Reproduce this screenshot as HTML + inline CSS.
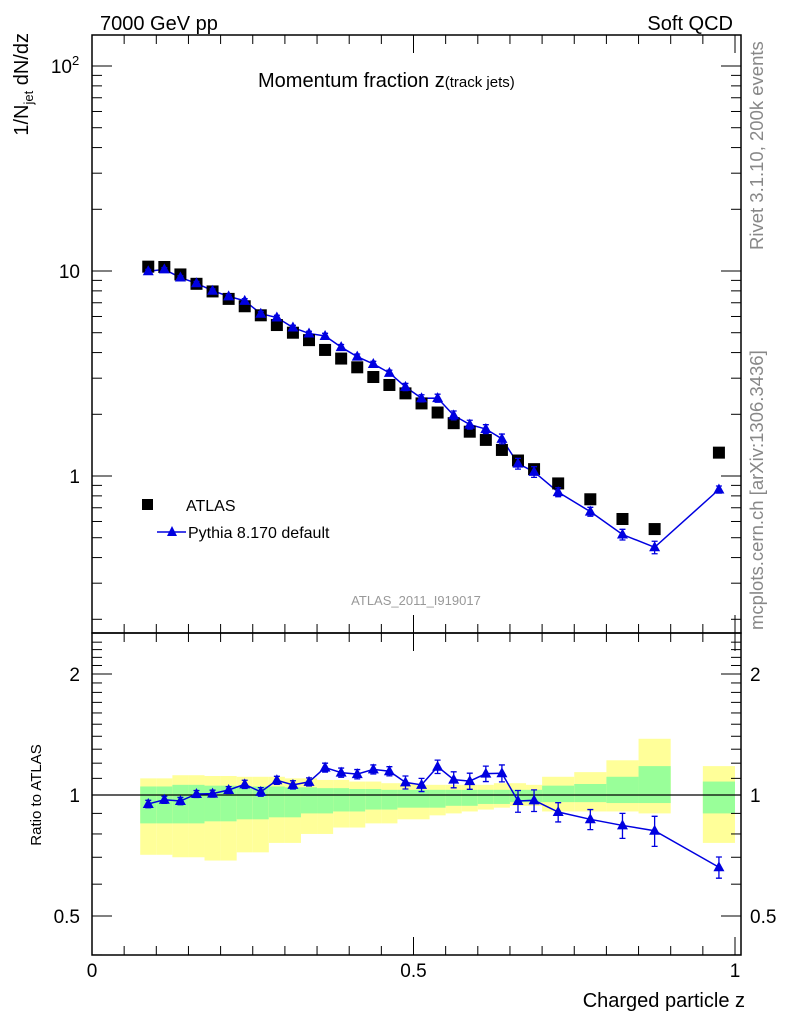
<!DOCTYPE html>
<html><head><meta charset="utf-8"><style>
body{margin:0;background:#fff;}
svg{display:block;font-family:"Liberation Sans",sans-serif;}
</style></head><body>
<svg id="c" width="786" height="1024" viewBox="0 0 786 1024">
<g id="bands"></g>
<g id="axes"></g>
<g id="marks"></g>
<text x="100" y="30" font-size="20">7000 GeV pp</text>
<text x="733" y="30" font-size="20" text-anchor="end">Soft QCD</text>
<text x="258" y="87" font-size="20">Momentum fraction z<tspan font-size="15">(track jets)</tspan></text>
<text transform="translate(28,33) rotate(-90)" font-size="20" text-anchor="end">1/N<tspan font-size="13" dy="5">jet</tspan><tspan dy="-5"> dN/dz</tspan></text>
<text transform="translate(41,795) rotate(-90)" font-size="15" text-anchor="middle">Ratio to ATLAS</text>
<text x="745" y="1007" font-size="20" text-anchor="end">Charged particle z</text>
<text transform="translate(763,250) rotate(-90)" font-size="18.5" fill="#888">Rivet 3.1.10,  200k events</text>
<text transform="translate(763,630) rotate(-90)" font-size="18.5" fill="#888">mcplots.cern.ch [arXiv:1306.3436]</text>
<text x="416" y="605" font-size="13" fill="#999" text-anchor="middle">ATLAS_2011_I919017</text>
<rect x="142" y="499" width="11" height="11" fill="#000"/>
<text x="186" y="511" font-size="16">ATLAS</text>
<line x1="157" y1="532" x2="186" y2="532" stroke="#0000e0" stroke-width="1.5"/>
<polygon points="172,526 177,536 167,536" fill="#0000e0"/>
<text x="188" y="538" font-size="16">Pythia 8.170 default</text>
</svg>
<script>
const binLo=[0.075,0.1,0.125,0.15,0.175,0.2,0.225,0.25,0.275,0.3,0.325,0.35,0.375,0.4,0.425,0.45,0.475,0.5,0.525,0.55,0.575,0.6,0.625,0.65,0.675,0.7,0.75,0.8,0.85,0.95];
const binHi=[0.1,0.125,0.15,0.175,0.2,0.225,0.25,0.275,0.3,0.325,0.35,0.375,0.4,0.425,0.45,0.475,0.5,0.525,0.55,0.575,0.6,0.625,0.65,0.675,0.7,0.75,0.8,0.85,0.9,1.0];
const dataVals=[10.5,10.46,9.62,8.66,7.95,7.31,6.73,6.08,5.45,5.0,4.6,4.12,3.74,3.39,3.04,2.78,2.53,2.26,2.04,1.81,1.645,1.50,1.34,1.19,1.08,0.92,0.77,0.617,0.551,1.30];
const ratioVals=[0.95,0.973,0.966,1.006,1.008,1.029,1.063,1.018,1.088,1.06,1.078,1.17,1.137,1.127,1.158,1.146,1.075,1.06,1.176,1.092,1.083,1.13,1.133,0.966,0.97,0.907,0.87,0.84,0.815,0.661];
const ratioErr=[0.02,0.02,0.02,0.02,0.02,0.02,0.025,0.025,0.025,0.025,0.025,0.03,0.03,0.03,0.03,0.03,0.04,0.04,0.045,0.05,0.05,0.05,0.055,0.06,0.06,0.05,0.05,0.06,0.07,0.04];
const yelUp=[1.10,1.10,1.12,1.12,1.115,1.115,1.11,1.11,1.11,1.10,1.10,1.09,1.09,1.08,1.08,1.07,1.07,1.06,1.06,1.06,1.06,1.06,1.07,1.07,1.06,1.11,1.14,1.22,1.38,1.18];
const grnUp=[1.05,1.05,1.06,1.06,1.055,1.055,1.05,1.05,1.05,1.045,1.045,1.04,1.04,1.035,1.035,1.03,1.03,1.03,1.03,1.03,1.03,1.03,1.03,1.03,1.03,1.055,1.065,1.11,1.18,1.08];
const grnDn=[0.85,0.85,0.85,0.85,0.86,0.86,0.87,0.87,0.88,0.88,0.90,0.90,0.91,0.91,0.92,0.92,0.93,0.93,0.93,0.94,0.94,0.95,0.95,0.96,0.96,0.96,0.96,0.955,0.955,0.90];
const yelDn=[0.71,0.71,0.70,0.70,0.687,0.687,0.72,0.72,0.76,0.76,0.80,0.80,0.83,0.83,0.85,0.85,0.87,0.87,0.89,0.90,0.91,0.92,0.93,0.94,0.94,0.91,0.91,0.91,0.90,0.76];
const yTickMain=[100,10,1];
const yTickMainLbl=["10","10","1"];
const yTickMainSup=["2","",""];
const rTicks=[2,1,0.5];
const xTicks=[0,0.5,1];
const xTickLbl=["0","0.5","1"];

const NS="http://www.w3.org/2000/svg";
const X0=92,X1=741,T=35,MB=633,RB=955;
const sx=z=>92+z*643;
const sy=v=>476-205*Math.log10(v);
const sr=r=>795-121*Math.log2(r);
function mk(p,tag,at,name){const e=document.createElementNS(NS,tag);for(const k in at)e.setAttribute(k,at[k]);


p.appendChild(e);return e;}
const bands=document.getElementById('bands'),axes=document.getElementById('axes'),marks=document.getElementById('marks');
for(let i=0;i<binLo.length;i++){
 const x=sx(binLo[i]),w=sx(binHi[i])-x;
 mk(bands,'rect',{x:x,y:sr(yelUp[i]),width:w,height:sr(yelDn[i])-sr(yelUp[i]),fill:'#ffff99'},'syst-band');
 mk(bands,'rect',{x:x,y:sr(grnUp[i]),width:w,height:sr(grnDn[i])-sr(grnUp[i]),fill:'#99ff99'},'stat-band');
}
mk(axes,'line',{x1:X0,y1:795,x2:X1,y2:795,stroke:'#000','stroke-width':1.3},'ratio-unity-line');
mk(axes,'rect',{x:X0,y:T,width:X1-X0,height:MB-T,fill:'none',stroke:'#000','stroke-width':1.5},'main-frame');
mk(axes,'rect',{x:X0,y:MB,width:X1-X0,height:RB-MB,fill:'none',stroke:'#000','stroke-width':1.5},'ratio-frame');
for(let k=0;k<=20;k++){const z=k*0.05,x=sx(z);const L=(k%10==0)?18:9;
 [[T,1],[MB,-1],[MB,1],[RB,-1]].forEach(([y,d])=>mk(axes,'line',{x1:x,y1:y,x2:x,y2:y+d*L,stroke:'#000'},'x-tick'));}
xTicks.forEach((z,i)=>{const t=mk(axes,'text',{x:sx(z),y:977,'font-size':19,'text-anchor':'middle'},'x-tick-label');t.textContent=xTickLbl[i];});
for(let d=-1;d<=2;d++)for(let m=1;m<10;m++){const v=m*Math.pow(10,d);const y=sy(v);if(y<T||y>MB)continue;const L=m==1?20:10;
 mk(axes,'line',{x1:X0,y1:y,x2:X0+L,y2:y,stroke:'#000'},'y-tick');mk(axes,'line',{x1:X1,y1:y,x2:X1-L,y2:y,stroke:'#000'},'y-tick');}
yTickMain.forEach((v,i)=>{const sup=yTickMainSup[i];const t=mk(axes,'text',{x:sup?72:80,y:sy(v)+7,'font-size':19,'text-anchor':'end'},'y-tick-label');t.textContent=yTickMainLbl[i];
 if(sup){const s=mk(axes,'text',{x:72,y:sy(v)-1,'font-size':13},'y-tick-exponent');s.textContent=sup;}});
for(let k=4;k<=24;k++){const r=k/10;const y=sr(r);if(y<MB||y>RB)continue;const L=(r==0.5||r==1||r==2)?20:10;
 mk(axes,'line',{x1:X0,y1:y,x2:X0+L,y2:y,stroke:'#000'},'ratio-tick');mk(axes,'line',{x1:X1,y1:y,x2:X1-L,y2:y,stroke:'#000'},'ratio-tick');}
rTicks.forEach(r=>{let t=mk(axes,'text',{x:80,y:sr(r)+7,'font-size':19,'text-anchor':'end'},'ratio-tick-label');t.textContent=String(r);
 t=mk(axes,'text',{x:750,y:sr(r)+7,'font-size':19},'ratio-tick-label-right');t.textContent=String(r);});
const C='#0000e0';
let mp='',rp='';
for(let i=0;i<binLo.length;i++){const x=sx((binLo[i]+binHi[i])/2);const mc=dataVals[i]*ratioVals[i];
 mp+=(i?'L':'M')+x+','+sy(mc);rp+=(i?'L':'M')+x+','+sr(ratioVals[i]);}
mk(marks,'path',{d:mp,fill:'none',stroke:C,'stroke-width':1.5},'pythia-line');
mk(marks,'path',{d:rp,fill:'none',stroke:C,'stroke-width':1.5},'pythia-ratio-line');
for(let i=0;i<binLo.length;i++){const x=sx((binLo[i]+binHi[i])/2);const y=sy(dataVals[i]);
 mk(marks,'rect',{x:x-6,y:y-6,width:12,height:12,fill:'#000'},'atlas-point');
 const mc=dataVals[i]*ratioVals[i],ym=sy(mc),e=ratioErr[i];
 const y1=sy(mc*(1+e)),y2=sy(mc*(1-e));
 mk(marks,'path',{d:`M${x},${y1}L${x},${y2}M${x-3},${y1}L${x+3},${y1}M${x-3},${y2}L${x+3},${y2}`,stroke:C,'stroke-width':1.3},'pythia-errorbar');
 mk(marks,'polygon',{points:`${x},${ym-6} ${x+5.5},${ym+4} ${x-5.5},${ym+4}`,fill:C},'pythia-point');
 const r=ratioVals[i],ry=sr(r),r1=sr(r+e),r2=sr(r-e);
 mk(marks,'path',{d:`M${x},${r1}L${x},${r2}M${x-3},${r1}L${x+3},${r1}M${x-3},${r2}L${x+3},${r2}`,stroke:C,'stroke-width':1.3},'ratio-errorbar');
 mk(marks,'polygon',{points:`${x},${ry-6} ${x+5.5},${ry+4} ${x-5.5},${ry+4}`,fill:C},'ratio-point');
}
</script>
</body></html>
